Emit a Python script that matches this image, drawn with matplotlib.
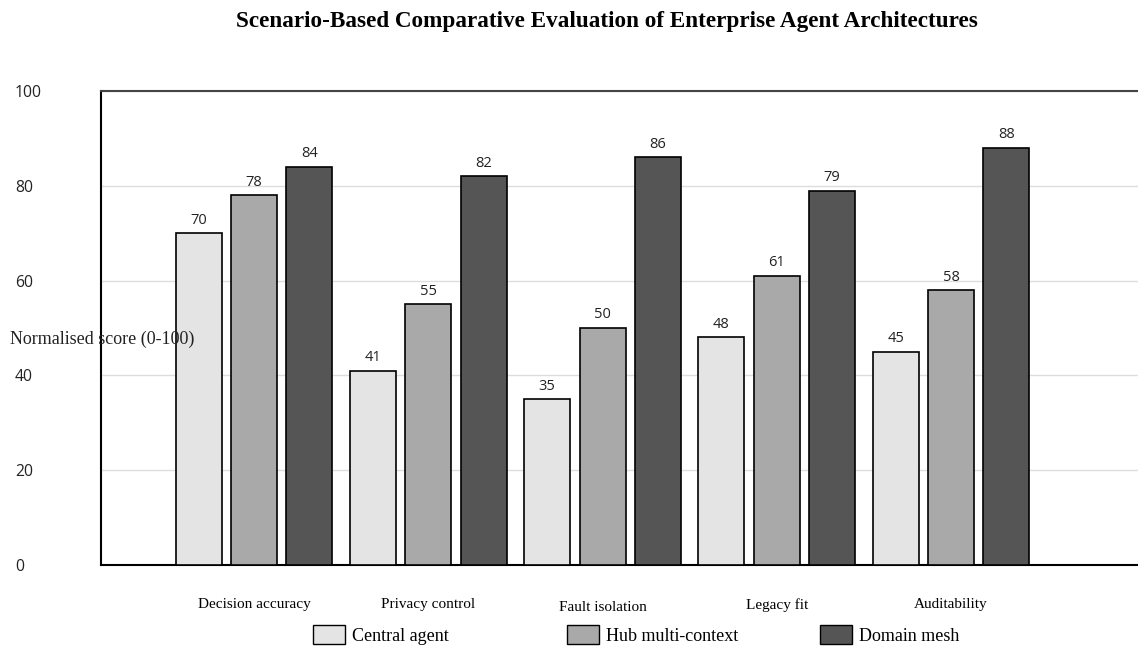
import matplotlib
matplotlib.use("Agg")
import matplotlib.pyplot as plt
import numpy as np
from matplotlib.patches import Patch

categories = ["Decision accuracy", "Privacy control", "Fault isolation", "Legacy fit", "Auditability"]
series_names = ["Central agent", "Hub multi-context", "Domain mesh"]
central = [70, 41, 35, 48, 45]
hub = [78, 55, 50, 61, 58]
mesh = [84, 82, 86, 79, 88]
yticks = [0, 20, 40, 60, 80, 100]

colors = ["#e4e4e4", "#a9a9a9", "#555555"]
serif = "Liberation Serif"
sans = "Open Sans"

fig = plt.figure(figsize=(11.38, 6.46), dpi=100)
ax = fig.add_axes([101 / 1138, 1 - 565 / 646, 1 - 101 / 1138, (565 - 91) / 646])

x = np.arange(len(categories))
offsets = [-0.318, 0.0, 0.318]
width = 0.264
for vals, off, col in zip([central, hub, mesh], offsets, colors):
    bars = ax.bar(x + off, vals, width, color=col, edgecolor="black", linewidth=1.2, zorder=3)
    for b, v in zip(bars, vals):
        ax.annotate(str(v), (b.get_x() + b.get_width() / 2, v), xytext=(0, 4),
                    textcoords="offset points", ha="center", va="bottom",
                    fontsize=10.5, family=sans, color="#222222")

ax.set_xlim(-0.878, 5.073)
ax.set_ylim(0, 100)
ax.set_yticks(yticks)
ax.set_yticklabels([str(t) for t in yticks], family=sans, fontsize=11.3, color="#222222")
for lab in ax.get_yticklabels():
    lab.set_ha("left")
ax.tick_params(axis="y", length=0, pad=62)
ax.set_xticks(x)
ax.set_xticklabels(categories, family=serif, fontsize=11)
ax.tick_params(axis="x", length=0, pad=24)
ax.get_xticklabels()[2].set_y(-0.005)

ax.grid(axis="y", color="#dddddd", linewidth=1, zorder=0)
ax.spines["right"].set_visible(False)
ax.spines["top"].set_color("#444444")
ax.spines["left"].set_linewidth(1.5)
ax.spines["bottom"].set_linewidth(1.5)
ax.spines["top"].set_linewidth(1.5)

fig.text(10 / 1138, 1 - 339 / 646, "Normalised score (0-100)", ha="left", va="center",
         family=serif, fontsize=13, color="#222222")

fig.suptitle("Scenario-Based Comparative Evaluation of Enterprise Agent Architectures",
             x=607 / 1138, y=1 - 21 / 646, va="center", family=serif, fontweight="bold", fontsize=16.7)

for name, col, xs in zip(series_names, colors, [313, 567, 820]):
    h = Patch(facecolor=col, edgecolor="black", linewidth=1)
    fig.legend(handles=[h], labels=[name], loc="center left",
               bbox_to_anchor=(xs / 1138, 1 - 635 / 646), frameon=False,
               prop={"family": serif, "size": 13}, handlelength=1.77, handleheight=1.2,
               handletextpad=0.39, borderpad=0, borderaxespad=0)

fig.savefig("out.png", dpi=100)
